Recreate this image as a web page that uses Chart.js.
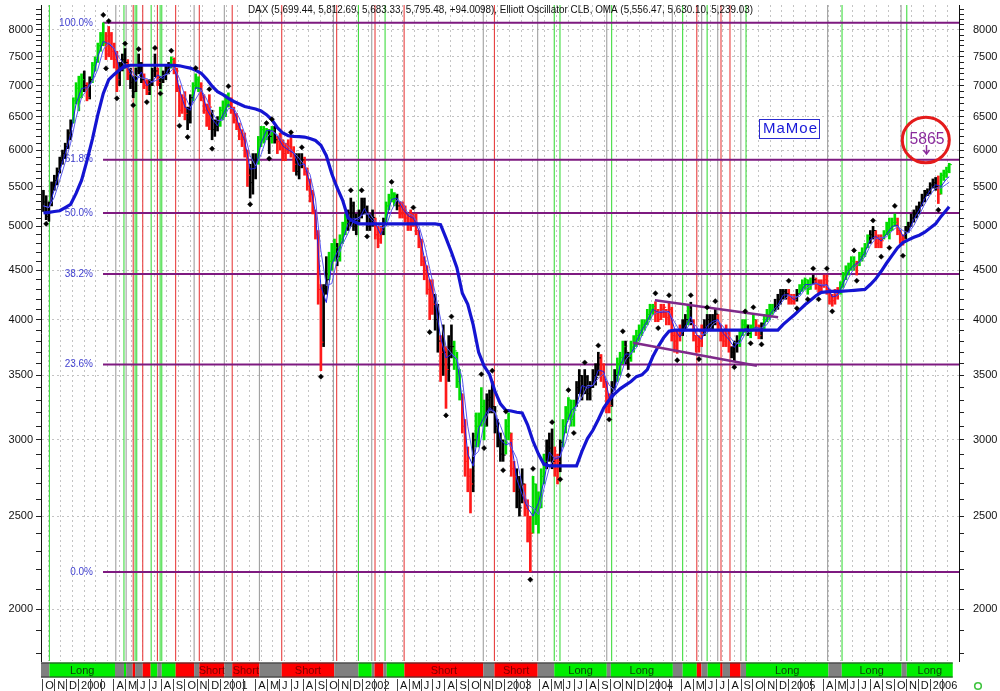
<!DOCTYPE html>
<html><head><meta charset="utf-8">
<script src="https://cdn.jsdelivr.net/npm/chart.js@4/dist/chart.umd.min.js"></script>
<style>html,body{margin:0;padding:0;background:#fff}#wrap{width:1000px;height:691px}</style>
</head><body><div id="wrap"><canvas id="c" width="1000" height="691"></canvas></div>
<script>
// ---------- DATA (weekly bars, week 0 = week of 4 Oct 1999) ----------
const highs = [
5450,5380,5300,5560,5650,5750,5900,6000,6100,6300,6450,6800,7050,
7160,7200,7250,7050,7150,7400,7500,7750,7950,8136,7950,8064,7950,7750,7600,7400,7550,7650,7450,7300,7150,7300,7550,7400,7200,7100,7100,7300,7550,7300,7150,7250,7350,7400,7500,7480,7300,7000,6850,6900,6650,6850,7050,7200,7150,7050,6850,6700,6850,6600,6450,6500,
6650,6750,6850,6880,6800,6650,6550,6400,6300,6250,6000,5800,5950,5950,6200,6350,6350,6320,6300,6350,6350,6200,6250,6150,6100,6150,6200,6050,5950,5950,5950,5900,5750,5600,5450,5200,4950,4350,4350,4650,4700,4800,4850,4800,4900,5050,5150,5200,5350,5300,5150,5200,5350,
5350,5250,5150,5200,5100,5000,5000,5100,5300,5400,5467,5420,5400,5300,5300,5250,5150,5200,5150,5150,4950,4850,4650,4550,4400,4400,4250,4150,3850,3950,3750,3850,3950,3800,3700,3550,3350,3150,2950,2800,3050,3200,3200,3400,3300,3350,3380,3450,3250,3150,3050,3000,
3150,3200,3050,2850,2800,2750,2800,2700,2600,2500,2750,2700,2650,2800,2900,3000,3050,3080,2950,2900,3000,3150,3250,3320,3300,3300,3450,3550,3500,3550,3500,3450,3550,3600,3700,3680,3600,3450,3350,3450,3550,3650,3700,3800,3800,3700,3800,3850,3900,3950,4000,4000,
4100,4150,4150,4175,4100,4150,4150,4100,4170,4120,3900,3900,3950,4000,4050,4150,4170,4000,3850,3850,3950,4000,4050,4050,4050,4100,4050,3950,3900,3950,3900,3750,3800,3850,3900,4000,4000,3950,3950,4050,4000,3950,3970,4050,4100,4150,4150,4200,4250,4300,4300,4300,
4300,4250,4250,4300,4350,4400,4420,4400,4420,4450,4420,4400,4400,4450,4450,4300,4250,4300,4320,4380,4480,4550,4580,4650,4650,4600,4700,4750,4800,4900,4950,5000,4950,4900,4900,4950,5050,5100,5100,5150,5100,4950,4900,5000,5050,5150,5200,5250,5300,5400,5450,5470,
5550,5600,5620,5640,5680,5720,5760,5813];
const lows = [
5180,5080,5060,5250,5450,5520,5680,5800,5880,6020,6150,6400,6700,
6590,6800,6900,6750,6780,7050,7250,7400,7600,7700,7450,7500,7450,7300,6900,7000,7250,7300,7100,6950,6800,6900,7200,7050,6950,6850,6850,7000,7150,7000,6950,7050,7100,7200,7300,7200,6900,6500,6550,6450,6300,6400,6750,6950,6900,6750,6550,6350,6300,6150,6200,6280,
6350,6450,6500,6650,6550,6400,6300,6150,6050,5900,5500,5350,5400,5600,5800,6050,6100,6150,5950,6100,6100,5950,6000,5850,5850,5950,5900,5700,5650,5600,5750,5650,5450,5300,5150,4850,4150,3540,3750,4250,4400,4500,4600,4550,4600,4800,4900,4950,5000,4950,4900,5050,5100,
5150,4950,4950,5000,4850,4750,4800,4900,5050,5200,5300,5250,5200,5100,5100,5050,4950,4950,5000,4900,4750,4550,4400,4250,4000,4050,3900,3700,3450,3500,3235,3450,3650,3550,3400,3300,3050,2750,2650,2519,2650,2950,2950,3100,3000,3100,3200,3200,3050,2950,2850,2850,
2900,3000,2750,2650,2550,2500,2580,2500,2350,2188,2400,2450,2400,2550,2700,2800,2850,2800,2750,2700,2780,2950,3050,3150,3100,3100,3250,3350,3300,3350,3300,3300,3400,3420,3500,3450,3400,3200,3200,3250,3380,3450,3500,3600,3600,3550,3620,3700,3750,3800,3850,3900,
3950,4000,4050,3980,3980,4000,4020,3950,3950,3800,3700,3690,3800,3850,3900,3950,3950,3800,3700,3700,3750,3850,3900,3900,3900,3950,3900,3800,3750,3750,3700,3650,3618,3700,3750,3850,3880,3850,3830,3900,3850,3820,3820,3900,3980,4000,4050,4080,4100,4150,4200,4200,
4150,4150,4150,4180,4250,4280,4300,4250,4300,4350,4300,4250,4280,4320,4250,4150,4130,4150,4200,4250,4320,4400,4450,4500,4500,4450,4550,4600,4650,4750,4800,4850,4750,4750,4750,4850,4900,4850,4950,5000,4900,4800,4780,4850,4930,5000,5050,5100,5150,5250,5300,5380,
5400,5480,5450,5280,5400,5580,5620,5683];
const closes = [
5300,5120,5270,5520,5580,5700,5850,5950,6050,6250,6400,6750,6958,
6800,7100,7000,6800,7100,7350,7450,7700,7900,7750,7550,7900,7600,7450,7100,7300,7450,7400,7200,7050,6900,7250,7350,7100,7000,6900,7050,7250,7250,7050,7100,7200,7300,7350,7450,7250,6950,6600,6798,6550,6450,6800,7000,7100,6950,6800,6600,6450,6650,6300,6350,6434,
6600,6550,6800,6750,6600,6450,6350,6250,6150,6000,5650,5550,5830,5850,6150,6300,6265,6300,6200,6300,6150,6123,6100,5950,6000,6058,6000,5800,5700,5850,5861,5700,5500,5400,5188,4900,4300,3790,4308,4400,4600,4700,4750,4650,4850,5000,5050,5045,5250,5000,5100,5150,5300,
5200,5000,5100,5108,4900,4850,4950,5039,5250,5350,5400,5397,5250,5150,5250,5100,5041,5150,5100,4950,4818,4600,4500,4300,4383,4150,4000,3800,3700,3700,3550,3750,3750,3712,3450,3350,3100,2850,2750,2700,3000,3100,3153,3250,3100,3300,3321,3250,3100,3000,2900,2893,
3100,3050,2800,2748,2650,2550,2700,2547,2400,2400,2700,2500,2550,2750,2850,2950,2942,2850,2800,2850,2983,3100,3200,3300,3150,3221,3400,3500,3350,3487,3350,3400,3500,3485,3650,3500,3450,3250,3257,3400,3500,3600,3655,3750,3650,3650,3746,3800,3850,3900,3950,3965,
4050,4100,4130,4059,4000,4100,4120,4018,4100,3850,3800,3850,3857,3950,4000,4100,3985,3850,3750,3800,3900,3921,4000,3950,4000,4053,3950,3850,3800,3896,3750,3700,3780,3800,3850,3950,3950,3870,3893,4000,3900,3850,3960,4000,4050,4100,4100,4126,4200,4250,4280,4256,
4200,4180,4200,4254,4300,4350,4400,4300,4350,4400,4350,4300,4349,4400,4300,4180,4185,4250,4280,4350,4450,4500,4520,4600,4550,4587,4650,4700,4750,4886,4900,4950,4800,4850,4830,4900,5000,4950,5044,5050,4950,4850,4850,4950,5000,5100,5150,5193,5250,5350,5420,5408,
5520,5550,5500,5400,5650,5680,5700,5795];
// bar colour codes: g = green, r = red, k = black
const barColorCodes =
 "kkkkkkkkkkkgg" +
 "ggkrkgggggrrrrrkkkrkkkkkrrkkkrkkkkgrrrrrkkgggrrrrkkk" +
 "ggggrrrrrrrkkkggggkgkrrrrrrrkkkrrrrrrrkkgggkgggkkkkkk" +
 "kkkkrrrkggggkrrrrrrrrrrrrrkkrkrkkgggrrrrkggggkkkkkkk" +
 "ggrrkkkrrrgggggkkkrrkgggggkkkkkkkkkrrrrkkgggkkgggggg" +
 "gggrrrrrrrrrrkkgkrrrrkkkkkrrrrrkkkgggkggrrkggggkkkkk" +
 "rrrkgggggkrrrrrrrrrggggggrggggkkrrrgggggrrrkkkkkkkkk" +
 "kkkrgggg";
// OMA lines, one value every 2 weeks (weeks 0,2,4,...,332) + last values from the title
const omaFast = [5250,5230,5460,5710,5950,6233,6703,6953,6967,7083,7500,7783,7733,7650,7283,7383,7217,7067,7233,7000,7067,7183,7117,7283,7350,6933,6650,6600,6967,6950,6617,6467,6361,6528,6700,6600,6350,6133,5733,5743,6100,6288,6283,6208,6058,6003,5953,5783,5804,5533,5163,4330,4166,4567,4700,4833,5032,5098,5083,5217,5100,5036,4900,5080,5333,5349,5217,5130,5097,4956,4639,4394,4178,3833,3650,3683,3637,3300,2900,2817,3084,3168,3240,3207,3000,2964,2983,2733,2633,2549,2500,2583,2717,2914,2864,2878,3094,3217,3257,3417,3396,3417,3545,3533,3319,3386,3585,3685,3682,3799,3900,3988,4100,4070,4073,4079,3917,3836,3936,4028,3862,3817,3940,3983,4001,3867,3815,3743,3810,3917,3898,3931,3903,4003,4083,4142,4243,4245,4193,4251,4350,4350,4367,4333,4350,4222,4238,4360,4490,4557,4596,4700,4845,4883,4827,4910,4998,5015,4883,4933,5083,5198,5340,5449,5523,5500,5600];
const omaSlow = [5250,5230,5360,5584,5826,6100,6482,6802,6932,7070,7280,7630,7760,7650,7470,7340,7280,7160,7130,7120,7060,7100,7170,7200,7310,7120,6830,6640,6780,6930,6780,6560,6437,6447,6627,6630,6480,6240,5920,5776,5936,6173,6283,6225,6135,6046,5962,5882,5782,5662,5338,4716,4340,4360,4620,4790,4919,5069,5109,5150,5150,5062,4982,4998,5198,5329,5289,5158,5128,5012,4794,4520,4267,4007,3750,3690,3642,3472,3100,2880,2921,3121,3225,3204,3104,2999,2949,2870,2690,2569,2549,2510,2670,2808,2878,2885,2987,3147,3254,3324,3417,3417,3477,3517,3421,3371,3482,3631,3690,3739,3849,3943,4043,4072,4086,4068,3978,3891,3891,3978,3937,3857,3874,3954,3991,3931,3849,3785,3776,3866,3899,3919,3921,3952,4042,4115,4191,4237,4223,4227,4301,4340,4360,4350,4340,4283,4239,4303,4420,4524,4581,4647,4777,4857,4866,4876,4945,4999,4949,4920,5010,5139,5273,5390,5480,5480,5530];
const omaThick = [5162,5170,5180,5190,5230,5270,5410,5580,5850,6160,6530,6870,7100,7190,7270,7330,
7350,7350,7350,7350,7350,7350,7350,7350,7350,
7340,7320,7300,7260,7210,7110,6990,6900,6850,6790,6740,6700,6660,6640,6620,6590,6530,6450,6330,6250,6210,6200,6195,6190,6170,6140,6070,5920,5670,5480,5320,5100,5060,5030,
5030,5030,5030,5030,5030,5030,5030,5030,5030,5030,5030,5030,5030,5030,
5020,4860,4700,4530,4260,4150,3950,3700,3580,3510,3370,3270,3220,3215,3205,3200,3110,2990,2900,2830,2820,
2820,2820,2820,2820,2820,
2920,3010,3070,3150,3240,3300,3350,3390,3420,3450,3490,3505,3550,3660,3750,3830,3890,
3900,3900,3900,3900,3900,3900,3900,3900,3900,3900,3900,3900,3900,3900,3900,3900,3900,3900,3900,3900,
3955,4000,4045,4095,4145,4190,4235,4270,4275,4280,4280,4282,4286,4290,4295,4300,4350,4410,4490,4580,4665,4750,4810,4840,4870,4895,4930,4980,5030,5120,5200];
const omaLast = [5630.10, 5556.47, 5239.03];
// fractal diamonds (week, value)
const diamondWeeks  = [1,22,24,23,30,27,33,35,38,41,43,47,50,53,56,61,62,68,76,82,84,83,91,95,102,113,117,119,128,136,142,150,148,161,165,162,170,169,179,180,187,190,193,195,199,204,208,213,215,225,226,230,233,238,241,244,247,254,258,260,261,264,274,277,281,283,285,288,290,298,299,305,308,311,313,316,329];
const diamondValues = [5030,8290,8170,7295,7740,6790,6680,7640,6730,7660,6870,7610,6360,6190,7300,6940,6020,6990,5270,6400,6460,5880,6260,6040,3490,5450,5450,4880,5560,5230,3882,4030,3181,3510,3540,2942,3211,2790,2148,2800,3130,2730,3380,3050,3610,3760,3150,3890,3500,4260,3920,4240,3630,4240,3640,4119,4180,3570,4080,3780,4120,3770,4390,4110,4200,4520,4200,4520,4080,4720,4390,5070,4650,4750,5250,4660,5200];
// Fibonacci retracement levels
const fibLevels = [8136, 5864, 5162, 4460, 3592, 2188];
const fibLabels = ['100.0%','61.8%','50.0%','38.2%','23.6%','0.0%'];
const fibStartWeek = 21.9;
// 2004 channel lines (week, value)
const channelUpperWeeks = [224.8, 270.1], channelUpperValues = [4190, 4022];
const channelLowerWeeks = [216.8, 262.3], channelLowerValues = [3785, 3582];
// signal lines (weeks)
const signalGreen = [2.2,29.6,33.7,34.3,39.6,42.9,43.5,115.8,125.6,187.8,189.9,208.9,235,244,258.3,293.6,317.4];
const signalRed   = [33,36.5,41.9,48.6,57.3,69.4,87.6,107.8,121.9,132.6,165.8,240.2,249.1,252.4];
const signalGray  = [26.6,30.4,55.4,66.5,79.4,106.6,120.7,161.7,181.7,207.1,231.2,242,247.9,256.4,288.3,315.3];
// Long / Short band
const bandEdges = [-0.9,2.2,26.3,29.6,30.4,32.8,33.7,36.5,39.4,41.9,43.5,48.6,55.4,57.3,66.5,69.4,79.4,87.6,106.9,115.8,120.7,121.7,125,126.2,132.7,161.7,165.8,181.7,187.8,207.1,208.6,231.4,235,240.2,241.9,244.2,248.8,249.7,252.4,256.3,258.3,288.6,293.5,315.5,317.4,334.3];
const bandKinds = "nLnLnSnSLnLSnSnSnSnLnSnLSnSnLnLnLSnLSnSnLnLnL";
const bandNames = {L:'Long', S:'Short'};
// axis labels
const monthLabels = ['O','N','D','2000','','','A','M','J','J','A','S',
 'O','N','D','2001','','','A','M','J','J','A','S',
 'O','N','D','2002','','','A','M','J','J','A','S',
 'O','N','D','2003','','','A','M','J','J','A','S',
 'O','N','D','2004','','','A','M','J','J','A','S',
 'O','N','D','2005','','','A','M','J','J','A','S',
 'O','N','D','2006',''];
const yLabelValues = [2000,2500,3000,3500,4000,4500,5000,5500,6000,6500,7000,7500,8000];
const titleText = 'DAX (5,699.44, 5,812.69, 5,683.33, 5,795.48, +94.0098), Elliott Oscillator CLB, OMA (5,556.47, 5,630.10, 5,239.03)';

// ---------- CHART ----------
const X_MIN = -0.9, X_MAX = 336.6, Y_MIN = 1768, Y_MAX = 8489;
const FONT = 'Liberation Sans, Arial, sans-serif';
Chart.defaults.font.family = FONT;
const colorOf = {g:'#00dc00', r:'#ff1a1a', k:'#000000'};
const barCols = barColorCodes.split('').map(c => colorOf[c]);
const monthWeeks = monthLabels.map((_, i) => (Date.UTC(1999, 9 + i, 1) - Date.UTC(1999, 9, 4)) / 604800000);
const yTickVals = []; for (let v = 1800; v <= 8400; v += 100) yTickVals.push(v);

function vlines(arr){ const d=[]; arr.forEach(w=>{ d.push({x:w,y:Y_MAX},{x:w,y:Y_MIN},{x:w,y:null}); }); return d; }
function omaData(arr, last){ const d = arr.map((v,i)=>({x:2*i, y:v})); d.push({x:highs.length-1, y:last}); return d; }
const fibData = []; fibLevels.forEach(v=>{ fibData.push({x:fibStartWeek,y:v},{x:X_MAX,y:v},{x:X_MAX,y:null}); });
const chanData = [
  {x:channelUpperWeeks[0],y:channelUpperValues[0]},{x:channelUpperWeeks[1],y:channelUpperValues[1]},{x:channelUpperWeeks[1],y:null},
  {x:channelLowerWeeks[0],y:channelLowerValues[0]},{x:channelLowerWeeks[1],y:channelLowerValues[1]}];
const lineBase = {type:'line', pointRadius:0, fill:false, spanGaps:false, tension:0};

const datasets = [
  Object.assign({data:vlines(signalGray), borderColor:'#a0a0a0', borderWidth:1.1, order:12}, lineBase),
  Object.assign({data:vlines(signalRed), borderColor:'#e84040', borderWidth:1.1, order:11}, lineBase),
  Object.assign({data:vlines(signalGreen), borderColor:'#40dc40', borderWidth:1.1, order:10}, lineBase),
  Object.assign({data:fibData, borderColor:'#7e1a80', borderWidth:2, order:9}, lineBase),
  {type:'bar', data: highs.map((h,i)=>({x:i, y:[lows[i], h]})), backgroundColor: barCols, borderWidth:0, barThickness:2, grouped:false, order:7},
  {type:'scatter', data: closes.map((c,i)=>({x:i+0.45, y:c})), pointStyle:'line', pointRadius:1.4, pointBorderWidth:1, pointBorderColor: barCols, order:6},
  Object.assign({data:omaData(omaSlow, omaLast[1]), borderColor:'#5a5af0', borderWidth:1, order:5}, lineBase),
  Object.assign({data:omaData(omaFast, omaLast[0]), borderColor:'#2020e8', borderWidth:1, order:5}, lineBase),
  Object.assign({data:omaData(omaThick, omaLast[2]), borderColor:'#1414d2', borderWidth:3.2, order:4}, lineBase),
  Object.assign({data:chanData, borderColor:'#7e2a8a', borderWidth:2.5, order:3}, lineBase),
  {type:'scatter', data: diamondWeeks.map((w,i)=>({x:w, y:diamondValues[i]})), pointStyle:'rectRot', pointRadius:2.6, pointBackgroundColor:'#000', pointBorderColor:'#000', pointBorderWidth:0.5, order:2}
];

const overlay = {
  id:'overlay',
  beforeDatasetsDraw(chart){
    const {ctx, scales:{x, y}} = chart;
    ctx.save();
    ctx.font = '10px ' + FONT; ctx.fillStyle = '#3f3fcf'; ctx.textAlign = 'right'; ctx.textBaseline = 'middle';
    const fx = x.getPixelForValue(fibStartWeek) - 10;
    fibLevels.forEach((lv,i)=> ctx.fillText(fibLabels[i], fx, y.getPixelForValue(lv)));
    ctx.restore();
  },
  afterDatasetsDraw(chart){
    const {ctx} = chart;
    ctx.save();
    // title
    ctx.font = '11px ' + FONT; ctx.fillStyle = '#111'; ctx.textAlign = 'center'; ctx.textBaseline = 'middle';
    const tw = ctx.measureText(titleText).width, target = 505;
    ctx.save(); ctx.translate(500.5, 10); ctx.scale(target/tw, 1); ctx.fillText(titleText, 0, 0); ctx.restore();
    // MaMoe box
    ctx.fillStyle = '#fff'; ctx.fillRect(759, 119, 60, 19);
    ctx.strokeStyle = '#2a2ad0'; ctx.lineWidth = 1; ctx.strokeRect(759.5, 119.5, 60, 19);
    ctx.font = '15px ' + FONT; ctx.fillStyle = '#1818d8'; ctx.textAlign = 'left'; ctx.textBaseline = 'middle';
    const word = 'MaMoe'; const ws = word.split('').map(c=>ctx.measureText(c).width);
    const gap = (54 - ws.reduce((a,b)=>a+b,0)) / (word.length-1);
    let cx = 763; word.split('').forEach((c,i)=>{ ctx.fillText(c, cx, 129); cx += ws[i] + gap; });
    // red circle with 5865
    ctx.beginPath(); ctx.ellipse(925.8, 140, 23.5, 22.8, 0, 0, Math.PI*2);
    ctx.strokeStyle = '#e41b1b'; ctx.lineWidth = 3; ctx.stroke();
    ctx.font = '17px ' + FONT; ctx.fillStyle = '#8a2a9c'; ctx.textAlign = 'center';
    const nw = ctx.measureText('5865').width;
    ctx.save(); ctx.translate(927, 139); ctx.scale(35/nw, 1); ctx.fillText('5865', 0, 0); ctx.restore();
    ctx.strokeStyle = '#8a2a9c'; ctx.lineWidth = 1.5;
    ctx.beginPath(); ctx.moveTo(926.5, 145); ctx.lineTo(926.5, 153); ctx.stroke();
    ctx.beginPath(); ctx.moveTo(923.5, 150); ctx.lineTo(926.5, 154); ctx.lineTo(929.5, 150); ctx.stroke();
    ctx.restore();
  },
  afterDraw(chart){
    const {ctx, chartArea:ca, scales:{x}} = chart;
    ctx.save();
    const top = ca.bottom + 1.5, h = 15;
    const fills = {L:'#00ee00', S:'#ff0000', n:'#808080'};
    const txt = {L:'#0b3b0b', S:'#7a0000'};
    ctx.font = '11px ' + FONT; ctx.textAlign = 'center'; ctx.textBaseline = 'middle';
    for (let i = 0; i < bandKinds.length; i++) {
      const k = bandKinds[i];
      const x0 = x.getPixelForValue(bandEdges[i]), x1 = x.getPixelForValue(bandEdges[i+1]);
      ctx.fillStyle = fills[k]; ctx.fillRect(x0, top, x1 - x0, h);
      if (k !== 'n' && bandEdges[i+1] - bandEdges[i] > 9) {
        ctx.fillStyle = txt[k]; ctx.fillText(bandNames[k], (x0 + x1) / 2, top + h/2 + 0.5);
      }
    }
    const bx0 = x.getPixelForValue(bandEdges[0]), bx1 = x.getPixelForValue(bandEdges[bandEdges.length-1]);
    ctx.strokeStyle = '#333'; ctx.lineWidth = 1;
    ctx.beginPath(); ctx.moveTo(bx0, top + 0.5); ctx.lineTo(bx1, top + 0.5);
    ctx.moveTo(bx0, top + h - 0.5); ctx.lineTo(bx1, top + h - 0.5); ctx.stroke();
    // month tick marks in label row
    ctx.strokeStyle = '#444';
    monthWeeks.forEach(w => { const px = Math.round(x.getPixelForValue(w)) + 0.5;
      ctx.beginPath(); ctx.moveTo(px, 679); ctx.lineTo(px, 691); ctx.stroke(); });
    // small green icon
    ctx.beginPath(); ctx.arc(978, 686, 3.3, 0, Math.PI*2); ctx.strokeStyle = '#3fc43f'; ctx.lineWidth = 1.6; ctx.stroke();
    ctx.restore();
  }
};

const yAxis = (pos, pad, onArea) => ({
  type:'logarithmic', position:pos, min:Y_MIN, max:Y_MAX,
  afterBuildTicks: s => { s.ticks = yTickVals.map(v => ({value:v})); },
  afterFit: s => { s.width = 41; s.paddingTop = 0; s.paddingBottom = 0; },
  grid: { drawOnChartArea:onArea, color: c => (c.tick && c.tick.value % 500 === 0) ? '#c4c4c4' : 'rgba(0,0,0,0)', tickColor:'#222', tickLength:5, lineWidth:1 },
  border: { display:true, color:'#111', width:1, dash:[2,3] },
  ticks: { autoSkip:false, padding:pad, color:'#111', font:{family:FONT, size:11},
           callback: v => yLabelValues.includes(Math.round(v)) ? String(Math.round(v)) : '' }
});

new Chart(document.getElementById('c'), {
  type:'line',
  data:{ datasets },
  options:{
    responsive:false, animation:false, devicePixelRatio:1, events:[],
    layout:{ padding:0 },
    plugins:{ legend:{display:false}, tooltip:{enabled:false} },
    scales:{
      x:{ type:'linear', min:X_MIN, max:X_MAX, offset:false,
          afterBuildTicks: s => { s.ticks = monthWeeks.map(v => ({value:v})); },
          afterFit: s => { s.height = 30; s.paddingLeft = 0; s.paddingRight = 0; },
          grid:{ color:'#c4c4c4', drawTicks:false, lineWidth:1 },
          border:{ display:false, dash:[2,3] },
          ticks:{ autoSkip:false, maxRotation:0, minRotation:0, align:'start', labelOffset:3, padding:18, color:'#111',
                  font:{family:FONT, size:11}, callback:(v, i) => monthLabels[i] } },
      y: yAxis('left', 3, true),
      y2: yAxis('right', 9, false)
    }
  },
  plugins:[overlay]
});
</script></body></html>
